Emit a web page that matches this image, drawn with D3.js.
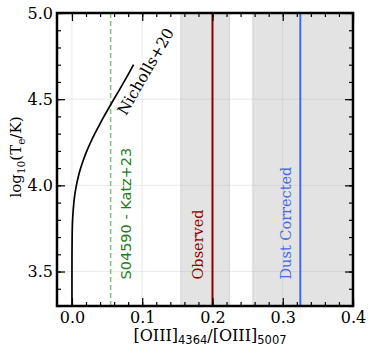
<!DOCTYPE html>
<html lang="en">
<head>
  <meta charset="UTF-8">
  <title>[OIII] temperature</title>
  <style>
    body { margin: 0; background: #fff; }
    svg { display: block; }
    .tick text { font-family: "DejaVu Serif", serif; font-size: 16px; fill: #000; }
  </style>
</head>
<body>
<div class="chart"></div>
<script src="https://d3js.org/d3.v7.min.js"></script>
<script>
  // Nicholls+20 curve: log10(Te) and the line ratio
  let curveLogT = [3.3, 3.4, 3.5, 3.6, 3.7, 3.8, 3.9, 3.95, 4.0, 4.05, 4.1, 4.15, 4.2, 4.25, 4.3, 4.35, 4.4, 4.45, 4.5, 4.55, 4.6, 4.65, 4.7]
  let curveRatio = [0.0, 0.0, 0.00001, 0.00004, 0.00024, 0.0009, 0.0027, 0.0042, 0.0063, 0.009, 0.0124, 0.0165, 0.0212, 0.0266, 0.0325, 0.0389, 0.0456, 0.0526, 0.0597, 0.0669, 0.074, 0.0809, 0.0877]

  // shaded ranges and vertical markers
  let bands = [[0.155, 0.224], [0.2575, 0.4]]
  let katzRatio = 0.055
  let observedRatio = 0.2
  let dustRatio = 0.325

  let xTicks = [0.0, 0.1, 0.2, 0.3, 0.4]
  let yTicks = [3.5, 4.0, 4.5, 5.0]

  let width = 374
  let height = 354
  let paddingL = 57
  let paddingT = 13
  let paddingR = 21
  let paddingB = 48
  let plotW = width - paddingL - paddingR
  let plotH = height - paddingT - paddingB

  let svg = d3.select('.chart').append('svg').attr('width', width).attr('height', height)
  let g = svg.append('g').attr('transform', 'translate(' + paddingL + ',' + paddingT + ')')

  let xScale = d3.scaleLinear().domain([-0.0213, 0.4]).range([0, plotW])
  let yScale = d3.scaleLinear().domain([3.3, 5.0]).range([plotH, 0])

  // grey bands
  g.selectAll('.band').data(bands).enter().append('rect')
    .attr('class', 'band')
    .attr('x', d => xScale(d[0]))
    .attr('width', d => xScale(d[1]) - xScale(d[0]))
    .attr('y', 0)
    .attr('height', plotH)
    .attr('fill', '#e3e3e3')
    .attr('stroke', '#d2d2d2')
    .attr('stroke-width', 1)

  // light grid
  g.selectAll('.gx').data(xTicks).enter().append('line')
    .attr('x1', d => xScale(d)).attr('x2', d => xScale(d))
    .attr('y1', 0).attr('y2', plotH)
    .attr('stroke', '#b0b0b0').attr('stroke-opacity', 0.25).attr('stroke-width', 1)
  g.selectAll('.gy').data(yTicks).enter().append('line')
    .attr('x1', 0).attr('x2', plotW)
    .attr('y1', d => yScale(d)).attr('y2', d => yScale(d))
    .attr('stroke', '#b0b0b0').attr('stroke-opacity', 0.25).attr('stroke-width', 1)

  // Katz+23 dashed line
  g.append('line')
    .attr('x1', xScale(katzRatio)).attr('x2', xScale(katzRatio))
    .attr('y1', 0).attr('y2', plotH)
    .attr('stroke', '#7fbf7f').attr('stroke-width', 1.5)
    .attr('stroke-dasharray', '5,3')

  // observed / dust corrected
  g.append('line')
    .attr('x1', xScale(observedRatio)).attr('x2', xScale(observedRatio))
    .attr('y1', 0).attr('y2', plotH)
    .attr('stroke', '#8b0000').attr('stroke-width', 2)
  g.append('line')
    .attr('x1', xScale(dustRatio)).attr('x2', xScale(dustRatio))
    .attr('y1', 0).attr('y2', plotH)
    .attr('stroke', '#4169e1').attr('stroke-width', 2)

  // Nicholls curve
  let curve = d3.line()
    .x((d, i) => xScale(curveRatio[i]))
    .y(d => yScale(d))
    .curve(d3.curveMonotoneY)
  g.append('path')
    .datum(curveLogT)
    .attr('d', curve)
    .attr('fill', 'none')
    .attr('stroke', '#000')
    .attr('stroke-width', 1.7)

  // labels in the plot
  function vText (x, yEnd, txt, color, family) {
    g.append('text')
      .attr('transform', 'translate(' + x + ',' + yEnd + ') rotate(-90)')
      .attr('text-anchor', 'start')
      .style('font-family', family)
      .style('font-size', '14.5px')
      .style('fill', color)
      .text(txt)
  }
  vText(xScale(katzRatio) + 20, yScale(3.5) + 8, 'S04590 - Katz+23', '#1e7d1e', '"DejaVu Sans", sans-serif')
  vText(xScale(observedRatio) - 9, yScale(3.5) + 8, 'Observed', '#8b0000', '"DejaVu Serif", serif')
  vText(xScale(dustRatio) - 9, yScale(3.5) + 8, 'Dust Corrected', '#4169e1', '"DejaVu Serif", serif')

  g.append('text')
    .attr('transform', 'translate(' + (xScale(0.0655) + 8) + ',' + (yScale(4.5) + 17) + ') rotate(-60)')
    .style('font-family', '"DejaVu Serif", serif')
    .style('font-size', '15.5px')
    .text('Nicholls+20')

  // axes: ticks pointing inward on all four sides
  function minor (a, b, step) { return d3.range(a, b + step / 2, step) }
  let xMinor = minor(0, 0.4, 0.02)
  let yMinor = minor(3.3, 5.0, 0.1)

  let xAxisB = d3.axisBottom(xScale).tickValues(xTicks).tickFormat(d3.format('.1f')).tickSizeInner(-8).tickSizeOuter(0).tickPadding(6)
  let xAxisT = d3.axisTop(xScale).tickValues(xTicks).tickFormat('').tickSizeInner(-8).tickSizeOuter(0)
  let yAxisL = d3.axisLeft(yScale).tickValues(yTicks).tickFormat(d3.format('.1f')).tickSizeInner(-8).tickSizeOuter(0).tickPadding(4)
  let yAxisR = d3.axisRight(yScale).tickValues(yTicks).tickFormat('').tickSizeInner(-8).tickSizeOuter(0)

  let minorB = d3.axisBottom(xScale).tickValues(xMinor).tickFormat('').tickSizeInner(-4).tickSizeOuter(0)
  let minorT = d3.axisTop(xScale).tickValues(xMinor).tickFormat('').tickSizeInner(-4).tickSizeOuter(0)
  let minorL = d3.axisLeft(yScale).tickValues(yMinor).tickFormat('').tickSizeInner(-4).tickSizeOuter(0)
  let minorR = d3.axisRight(yScale).tickValues(yMinor).tickFormat('').tickSizeInner(-4).tickSizeOuter(0)

  g.append('g').attr('transform', 'translate(0,' + plotH + ')').call(minorB)
  g.append('g').call(minorT)
  g.append('g').call(minorL)
  g.append('g').attr('transform', 'translate(' + plotW + ',0)').call(minorR)
  g.append('g').attr('transform', 'translate(0,' + plotH + ')').call(xAxisB)
  g.append('g').call(xAxisT)
  g.append('g').call(yAxisL)
  g.append('g').attr('transform', 'translate(' + plotW + ',0)').call(yAxisR)

  g.selectAll('.domain').remove()
  g.selectAll('.tick line').attr('stroke', '#000').attr('stroke-width', 1.2)

  // frame
  g.append('rect')
    .attr('x', 0).attr('y', 0).attr('width', plotW).attr('height', plotH)
    .attr('fill', 'none').attr('stroke', '#000').attr('stroke-width', 2.5)

  // axis titles
  let xt = svg.append('text')
    .attr('x', 210)
    .attr('y', 341)
    .attr('text-anchor', 'middle')
    .style('font-family', '"DejaVu Serif", serif')
    .style('font-size', '16px')
  xt.append('tspan').text('[OIII]')
  xt.append('tspan').attr('dy', 3).style('font-size', '11.5px').style('font-family', '"DejaVu Sans", sans-serif').text('4364')
  xt.append('tspan').attr('dy', -3).text('/[OIII]')
  xt.append('tspan').attr('dy', 3).style('font-size', '11.5px').style('font-family', '"DejaVu Sans", sans-serif').text('5007')

  let yt = svg.append('text')
    .attr('transform', 'translate(21,' + 157 + ') rotate(-90)')
    .attr('text-anchor', 'middle')
    .style('font-family', '"DejaVu Serif", serif')
    .style('font-size', '15px')
  yt.append('tspan').text('log')
  yt.append('tspan').attr('dy', 4).style('font-size', '10.5px').text('10')
  yt.append('tspan').attr('dy', -4).text('(T')
  yt.append('tspan').attr('dy', 4).style('font-size', '10.5px').text('e')
  yt.append('tspan').attr('dy', -4).text('/K)')
</script>
</body>
</html>
